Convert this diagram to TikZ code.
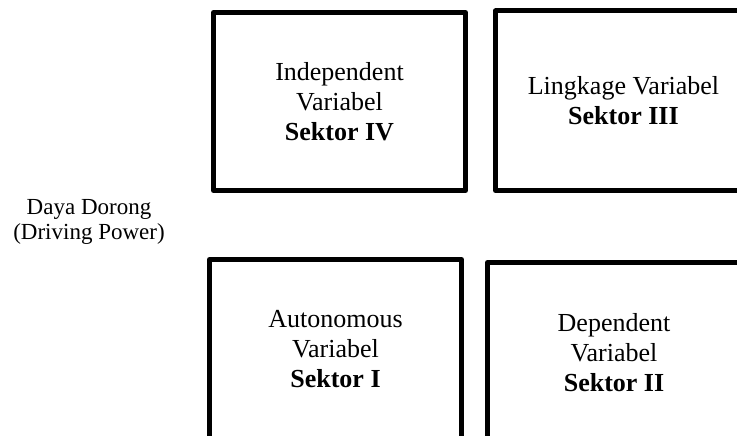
\documentclass[tikz,border=0pt]{standalone}
\usepackage{fontspec}
\setmainfont{Liberation Serif}
\begin{document}
\begin{tikzpicture}[x=1pt,y=-1pt,
  quad/.style={draw=black,line width=5pt,line join=round,minimum width=#1,align=center,
    font=\fontsize{26}{30}\selectfont,inner sep=0pt},
  lbl/.style={align=center,font=\fontsize{23}{25.5}\selectfont,inner sep=0pt}]
\useasboundingbox (0,0) rectangle (737,436);
\clip (0,0) rectangle (737,436);
\node[quad=252pt,minimum height=178pt] (s4) at (339.5,101.5) {Independent\\Variabel\\\textbf{Sektor IV}};
\node[quad=256pt,minimum height=179.5pt] (s3) at (623.5,100.75) {Lingkage Variabel\\\textbf{Sektor III}};
\node[quad=252pt,minimum height=180pt] (s1) at (335.5,349.5) {Autonomous\\Variabel\\\textbf{Sektor I}};
\node[quad=253pt,minimum height=180pt] (s2) at (614,352.5) {Dependent\\Variabel\\\textbf{Sektor II}};
\node[lbl] (dp) at (89,222) {Daya Dorong\\(Driving Power)};
\end{tikzpicture}
\end{document}
